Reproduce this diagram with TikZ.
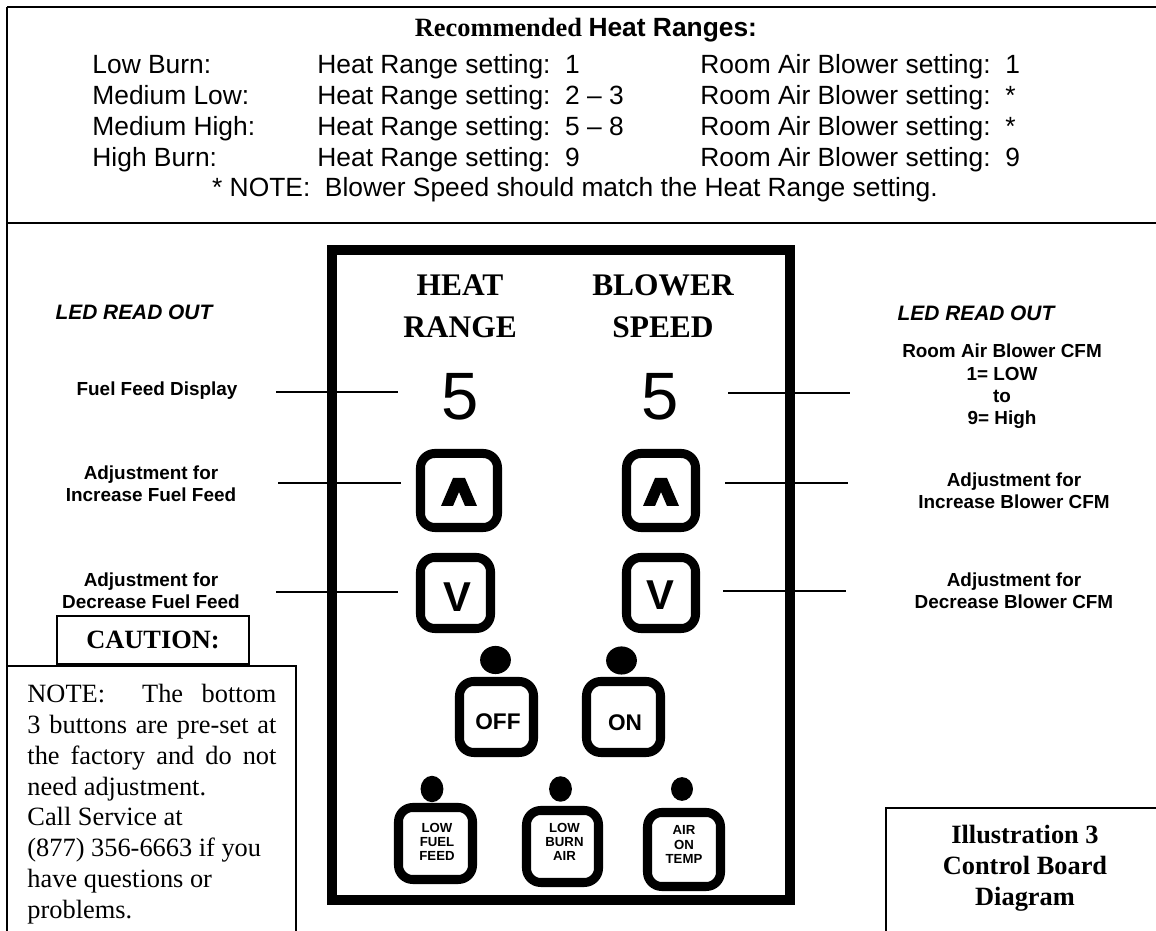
\documentclass[tikz,border=0pt]{standalone}
\usepackage{fontspec}
\setmainfont{Liberation Serif}
\newfontfamily\arialf{Liberation Sans}
\begin{document}
\begin{tikzpicture}[x=0.455pt,y=-0.455pt,
  outerline/.style={line width=1.1pt},
  conn/.style={line width=0.7pt},
  toptxt/.style={anchor=base west, inner sep=0pt, font=\arialf\fontsize{12}{14}\selectfont},
  lbl/.style={align=center, inner sep=0pt, font=\arialf\bfseries\fontsize{8.6}{10.2}\selectfont},
  ledtxt/.style={inner sep=0pt, font=\arialf\bfseries\itshape\fontsize{9.5}{11}\selectfont},
  headtxt/.style={align=center, inner sep=0pt, font=\bfseries\fontsize{14.3}{19.1}\selectfont},
  digit/.style={inner sep=0pt, font=\arialf\fontsize{30.5}{32}\selectfont},
  btn/.style={draw, line width=4.1pt, rounded corners=6.5pt, inner sep=0pt},
  bsize/.style 2 args={minimum width=#1*0.455pt, minimum height=#2*0.455pt},
  btntxt/.style={inner sep=0pt, font=\arialf\bfseries\fontsize{10.3}{12}\selectfont},
  smalltxt/.style={align=center, inner sep=0pt, font=\arialf\bfseries\fontsize{6}{6.4}\selectfont},
  vtxt/.style={inner sep=0pt, font=\arialf\bfseries\fontsize{19}{20}\selectfont},
  boxed/.style={draw, line width=0.6pt},
  serifb/.style={font=\bfseries\fontsize{12}{14.1}\selectfont},
  pics/upchev/.style={code={\fill (-18,15.5) -- (-6,-12.5) -- (6,-12.5) -- (18,15.5) -- (6,15.5) -- (0,1.5) -- (-6,15.5) -- cycle;}}
]
\useasboundingbox (0,0) rectangle (1156,931);

% outer frame
\draw[outerline] (7,7) -- (1160,7);
\draw[outerline] (7,7) -- (7,940);
\draw[outerline] (7,223) -- (1160,223);

% top table
\node[anchor=base, inner sep=0pt, font=\bfseries\fontsize{12}{14}\selectfont] (rec) at (586,37) {Recommended \arialf Heat Ranges:};
\node[toptxt] (t1a) at (92,74) {Low Burn:};
\node[toptxt] (t1b) at (317,74) {Heat Range setting:\ \ 1};
\node[toptxt] (t1c) at (700,74) {Room Air Blower setting:\ \ 1};
\node[toptxt] (t2a) at (92,105) {Medium Low:};
\node[toptxt] (t2b) at (317,105) {Heat Range setting:\ \ 2 – 3};
\node[toptxt] (t2c) at (700,105) {Room Air Blower setting:\ \ *};
\node[toptxt] (t3a) at (92,136) {Medium High:};
\node[toptxt] (t3b) at (317,136) {Heat Range setting:\ \ 5 – 8};
\node[toptxt] (t3c) at (700,136) {Room Air Blower setting:\ \ *};
\node[toptxt] (t4a) at (92,167) {High Burn:};
\node[toptxt] (t4b) at (317,167) {Heat Range setting:\ \ 9};
\node[toptxt] (t4c) at (700,167) {Room Air Blower setting:\ \ 9};
\node[toptxt, anchor=base] (tnote) at (575,197) {* NOTE:\ \ Blower Speed should match the Heat Range setting.};

% control panel
\draw[line width=4.55pt] (332,250) rectangle (790,900);
\node[headtxt] (heat) at (460,306) {HEAT\\RANGE};
\node[headtxt] (blow) at (663,306) {BLOWER\\SPEED};
\node[digit] (d5L) at (460,397) {5};
\node[digit] (d5R) at (660.5,397) {5};

\node[btn, bsize={77}{74}] (upL) at (459,490.5) {};
\node[btn, bsize={69}{74}] (upR) at (661,490.5) {};
\pic at (upL.center) {upchev};
\pic at (upR.center) {upchev};
\node[btn, bsize={70}{71}] (dnL) at (455.5,593) {};
\node[btn, bsize={69}{71}] (dnR) at (661,593) {};
\node[vtxt] (vL) at ([shift={(2,4)}]dnL.center) {V};
\node[vtxt] (vR) at ([shift={(-1,2)}]dnR.center) {V};

\fill (495.5,660) ellipse [x radius=7pt, y radius=6.4pt];
\fill (621.5,660.5) ellipse [x radius=7pt, y radius=6.4pt];
\node[btn, bsize={74}{71}] (off) at (496.5,717) {};
\node[btn, bsize={74}{71}] (on) at (623.5,717) {};
\node[btntxt] (offt) at (498,722) {OFF};
\node[btntxt] (ont) at (625,723) {ON};

\fill (432,789) ellipse [x radius=5.2pt, y radius=6pt];
\fill (560.5,789) ellipse [x radius=5.2pt, y radius=5.8pt];
\fill (682,789) ellipse [x radius=5pt, y radius=5.4pt];
\node[btn, bsize={74}{72}] (lff) at (435.5,843.5) {};
\node[btn, bsize={72}{72}] (lba) at (562.5,846.5) {};
\node[btn, bsize={73}{74}] (aot) at (684,849.5) {};
\node[smalltxt] (lfft) at (437,842) {LOW\\FUEL\\FEED};
\node[smalltxt] (lbat) at (564.5,842) {LOW\\BURN\\AIR};
\node[smalltxt] (aott) at (684,844.5) {AIR\\ON\\TEMP};

% labels
\node[ledtxt] (ledL) at (134,312) {LED READ OUT};
\node[ledtxt] (ledR) at (976,313) {LED READ OUT};
\node[lbl] (fuel) at (157,390.5) {Fuel Feed Display};
\node[lbl] (incF) at (151,484) {Adjustment for\\Increase Fuel Feed};
\node[lbl] (decF) at (151,590.5) {Adjustment for\\Decrease Fuel Feed};
\node[lbl] (cfm) at (1002,386.5) {Room Air Blower CFM\\1= LOW\\to\\9= High};
\node[lbl] (incB) at (1014,490.5) {Adjustment for\\Increase Blower CFM};
\node[lbl] (decB) at (1014,591) {Adjustment for\\Decrease Blower CFM};

% connectors
\coordinate (l1a) at (276,392); \coordinate (l1b) at (398,392);
\coordinate (l2a) at (278,483); \coordinate (l2b) at (401,483);
\coordinate (l3a) at (276,592); \coordinate (l3b) at (398,592);
\coordinate (r1a) at (728,393); \coordinate (r1b) at (850,393);
\coordinate (r2a) at (725,483); \coordinate (r2b) at (848,483);
\coordinate (r3a) at (723,591); \coordinate (r3b) at (846,591);
\draw[conn] (l1a) -- (l1b);
\draw[conn] (l2a) -- (l2b);
\draw[conn] (l3a) -- (l3b);
\draw[conn] (r1a) -- (r1b);
\draw[conn] (r2a) -- (r2b);
\draw[conn] (r3a) -- (r3b);

% caution + note
\node[boxed, serifb, bsize={192}{48}, inner sep=0pt] (caution) at (153,640) {CAUTION:};
\draw[line width=0.6pt] (7,666) rectangle (296,945);
\node[anchor=north west, inner sep=0pt, align=left, font=\fontsize{12}{14}\selectfont] (notetxt) at (27,684)
 {\makebox[113.3pt][s]{NOTE:\hspace{0pt plus 2fil}The\hspace{0pt plus 1fil}bottom}\\
  \makebox[113.3pt][s]{3 buttons are pre-set at}\\
  \makebox[113.3pt][s]{the factory and do not}\\
  need adjustment.\\
  Call Service at\\
  (877) 356-6663 if you\\
  have questions or\\
  problems.};

% illustration box
\draw[line width=0.6pt] (886,808) rectangle (1170,945);
\node[serifb, align=center, inner sep=0pt] (illus) at (1025,868) {Illustration 3\\Control Board\\Diagram};
\end{tikzpicture}
\end{document}
